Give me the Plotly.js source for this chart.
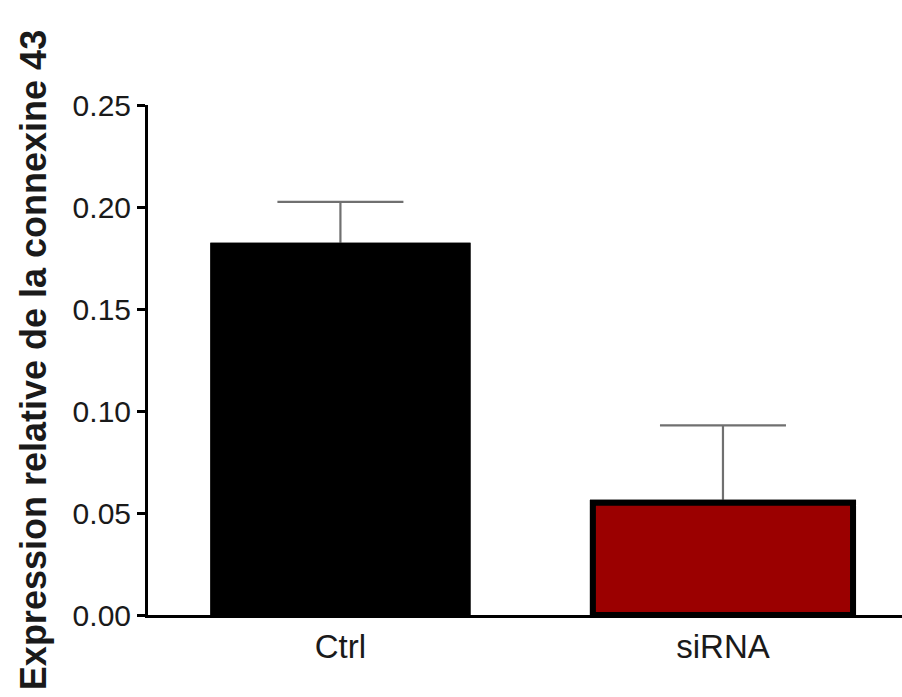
<!DOCTYPE html>
<html>
<head>
<meta charset="utf-8">
<script src="https://cdn.plot.ly/plotly-3.0.1.min.js"></script>
<style>html,body{margin:0;padding:0;background:#fff;}#chart{width:902px;height:697px;}</style>
</head>
<body>
<div id="chart"></div>
<script>
const categories = ["Ctrl", "siRNA"];
const values = [0.1825, 0.055];
const errors = [0.020, 0.038];
const barColors = ["#000000", "#9b0000"];
const yTickVals = [0.00, 0.05, 0.10, 0.15, 0.20, 0.25];
const yTickText = ["0.00", "0.05", "0.10", "0.15", "0.20", "0.25"];

const fontFam = "Liberation Sans, Arial, Helvetica, sans-serif";
const textColor = "#1a1a1a";

const barMarker = { color: barColors, line: { color: "#000000", width: [0, 6] } };

const traces = [
  {
    type: "bar",
    x: categories,
    y: values,
    width: 0.68,
    marker: barMarker,
    error_y: { type: "data", symmetric: true, array: errors, color: "#707070", thickness: 2.2, width: 63 },
    hoverinfo: "none"
  },
  {
    // same bars drawn again on top to hide the lower half of the error bars
    type: "bar",
    x: categories,
    y: values,
    width: 0.68,
    marker: barMarker,
    hoverinfo: "none"
  }
];

const layout = {
  width: 902, height: 697,
  margin: { l: 148, r: 0, t: 105, b: 82 },
  paper_bgcolor: "#ffffff", plot_bgcolor: "#ffffff",
  showlegend: false,
  barmode: "overlay",
  xaxis: {
    type: "category",
    range: [-0.503, 1.468],
    showline: true, linecolor: "#000", linewidth: 3,
    ticks: "", showgrid: false, zeroline: false,
    tickfont: { family: fontFam, size: 33, color: textColor }
  },
  yaxis: {
    range: [0, 0.25],
    tickvals: yTickVals, ticktext: yTickText,
    showline: true, linecolor: "#000", linewidth: 3,
    ticks: "outside", ticklen: 8, tickwidth: 3, tickcolor: "#000",
    showgrid: false, zeroline: false,
    tickfont: { family: fontFam, size: 30, color: textColor },
    title: { text: "<b>Expression relative de la connexine 43</b>", font: { family: fontFam, size: 36, color: textColor }, standoff: 16 }
  }
};

Plotly.newPlot("chart", traces, layout, { staticPlot: true, displayModeBar: false });
</script>
</body>
</html>
